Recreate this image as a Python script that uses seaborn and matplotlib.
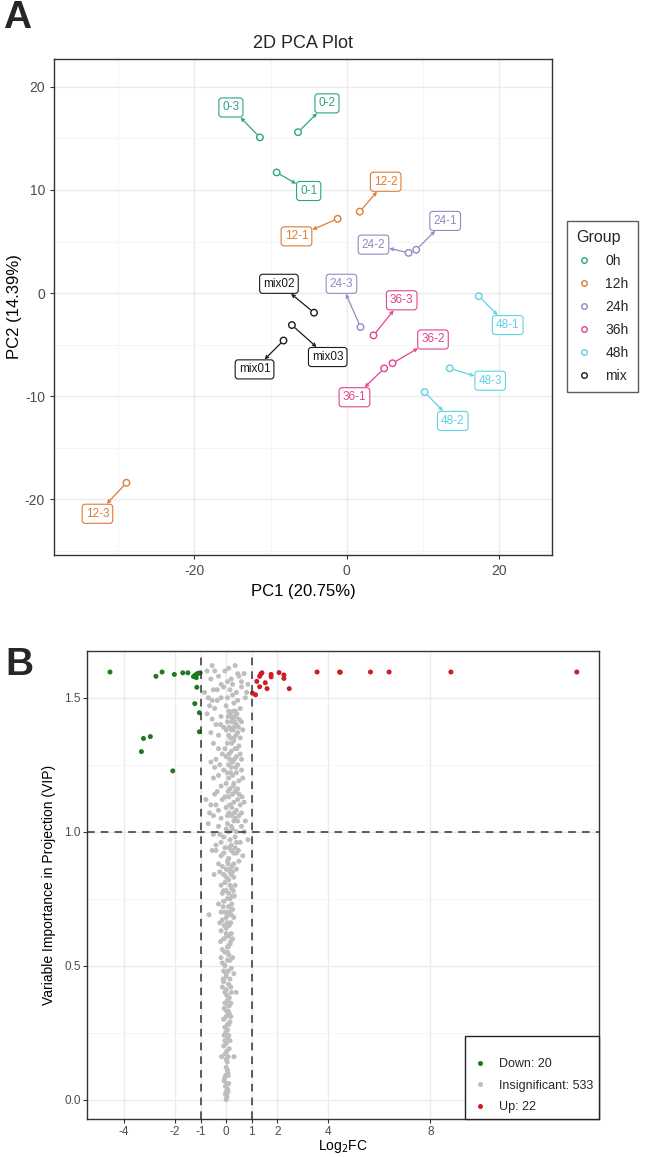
"""
Two-panel figure: PCA of samples (A) and VIP vs log2 fold change (B).
"""
import numpy as np
import pandas as pd
import matplotlib
matplotlib.use('Agg')
import matplotlib.pyplot as plt
from matplotlib.lines import Line2D
import seaborn as sns

# ---- panel A data: PCA scores ----
samples = ['0-1', '0-2', '0-3', '12-1', '12-2', '12-3', '24-1', '24-2', '24-3',
           '36-1', '36-2', '36-3', '48-1', '48-2', '48-3', 'mix01', 'mix02', 'mix03']
groups = ['0h'] * 3 + ['12h'] * 3 + ['24h'] * 3 + ['36h'] * 3 + ['48h'] * 3 + ['mix'] * 3
pc1 = [-9.2, -6.4, -11.4, -1.2, 1.7, -28.9, 9.1, 8.1, 1.8,
       4.9, 6.0, 3.5, 17.3, 10.2, 13.5, -8.3, -4.3, -7.2]
pc2 = [11.7, 15.6, 15.1, 7.2, 7.9, -18.4, 4.2, 3.9, -3.3,
       -7.3, -6.8, -4.1, -0.3, -9.6, -7.3, -4.6, -1.9, -3.1]
group_order = ['0h', '12h', '24h', '36h', '48h', 'mix']

# where the repelled labels sit (layout only)
label_pos = {
    '0-1': (-5.0, 9.9), '0-2': (-2.6, 18.4), '0-3': (-15.2, 18.0),
    '12-1': (-6.6, 5.5), '12-2': (5.1, 10.8), '12-3': (-32.7, -21.4),
    '24-1': (12.9, 7.0), '24-2': (3.5, 4.7), '24-3': (-0.7, 0.9),
    '36-1': (1.0, -10.1), '36-2': (11.3, -4.5), '36-3': (7.2, -0.7),
    '48-1': (21.1, -3.1), '48-2': (13.9, -12.4), '48-3': (18.8, -8.5),
    'mix01': (-12.1, -7.4), 'mix02': (-8.9, 0.9), 'mix03': (-2.5, -6.2),
}

# ---- panel B data: log2FC and VIP ----
down_fc = [-4.55, -2.75, -2.51, -2.03, -1.70, -1.50, -1.28, -1.22, -1.15, -1.09,
           -1.02, -1.17, -1.15, -1.23, -1.05, -1.05, -3.24, -2.97, -3.32, -2.09]
down_vip = [1.596, 1.580, 1.596, 1.587, 1.593, 1.593, 1.579, 1.584, 1.589, 1.591,
            1.593, 1.575, 1.539, 1.478, 1.444, 1.373, 1.348, 1.355, 1.299, 1.227]
up_fc = [1.03, 1.15, 1.20, 1.31, 1.31, 1.36, 1.40, 1.53, 1.60, 1.76, 1.76,
         2.07, 2.26, 2.26, 2.47, 3.56, 4.44, 4.47, 5.65, 6.38, 8.80, 13.73]
up_vip = [1.517, 1.511, 1.561, 1.541, 1.580, 1.589, 1.593, 1.556, 1.534, 1.587, 1.578,
          1.594, 1.585, 1.572, 1.534, 1.596, 1.596, 1.595, 1.596, 1.596, 1.596, 1.596]
insig_fc = [
    -0.75, -0.55, -0.30, 0.10, 0.35, 0.60, 0.85, -0.60, -0.20, 0.20, 0.45, -0.45, 0.05, 0.70,
    -0.85, -0.50, -0.20, 0.15, 0.40, 0.75, -0.65, -0.35, 0.00, 0.30, 0.55, -0.10, 0.25, -0.70,
    0.60, 0.10, -0.45,
    -0.75, -0.55, -0.40, -0.20, 0.05, 0.15, 0.25, 0.30, 0.35, 0.40, 0.45, 0.20, 0.10, 0.30,
    0.50, 0.65, -0.60, -0.30, 0.00, 0.38, 0.22, 0.28, 0.42, 0.12, 0.55, -0.10,
    -0.50, -0.30, -0.15, 0.05, 0.20, 0.30, 0.40, 0.50, 0.15, -0.40, 0.25, 0.35, 0.10, -0.60,
    0.60, 0.00, 0.45,
    -0.45, -0.30, -0.10, 0.10, 0.20, 0.30, 0.40, 0.50, 0.15, -0.20, 0.35, 0.00, 0.25, 0.60,
    -0.35, 0.45,
    -0.80, -0.60, -0.45, -0.30, -0.15, 0.00, 0.10, 0.20, 0.30, 0.40, 0.50, 0.60, 0.70, -0.50,
    0.25, 0.15, -0.20, 0.35, 0.05, 0.55,
    -0.70, -0.50, -0.30, -0.10, 0.05, 0.15, 0.25, 0.35, 0.45, 0.55, 0.70, -0.20, 0.10, 0.30,
    -0.40, 0.20, 0.40, 0.85, -0.55,
    -0.40, -0.20, -0.05, 0.10, 0.20, 0.30, 0.40, 0.15, -0.15, 0.05, 0.25, 0.35, 0.50, 0.65,
    -0.30, 0.00,
    -0.47, -0.20, -0.10, 0.00, 0.10, 0.20, 0.30, 0.25, 0.05, -0.15, 0.15, 0.35, 0.28, -0.05,
    0.20, 0.10,
    -0.67, -0.30, -0.20, -0.10, 0.00, 0.10, 0.20, 0.05, -0.15, 0.15, 0.25, -0.05, 0.08, 0.18,
    -0.25,
    -0.20, -0.10, 0.00, 0.10, 0.15, -0.15, 0.05, 0.20, -0.05, 0.12, 0.25, -0.22, 0.02,
    -0.20, -0.05, 0.10, 0.20, 0.30, 0.00, -0.10, 0.15, 0.05, -0.15, 0.25, 0.08,
    -0.10, 0.00, 0.10, 0.20, 0.39, 0.05, -0.05, 0.15, -0.15, 0.12, 0.02, 0.18,
    -0.08, 0.00, 0.08, 0.15, -0.05, 0.05, 0.12, -0.10, 0.10, 0.02, 0.18,
    -0.08, 0.00, 0.06, 0.12, -0.04, 0.08, -0.10, 0.15, 0.02, -0.02,
    -0.18, 0.00, 0.06, -0.06, 0.10, 0.04, -0.03, 0.31, -0.08, 0.08,
    0.00, 0.03, -0.03, 0.05, 0.00, 0.02,
    # second pass over the denser parts of the strip
    0.50, -0.05, 0.25, -0.35, 0.80, 0.05, 0.45, -0.55,
    0.18, 0.33, 0.27, 0.48, 0.08, -0.22, 0.60, 0.36, 0.16,
    0.22, 0.42, -0.05, 0.12, 0.32, 0.55, -0.25, 0.18, 0.38, 0.05, -0.50, 0.65,
    0.28, 0.08, 0.45, -0.05, 0.22, 0.38, -0.40, 0.12, 0.62, -0.65, 0.32, 0.50,
    0.20, 0.40, 0.00, -0.25, 0.60, 0.12, 0.30, -0.10, 0.48, 0.75,
    0.08, 0.22, -0.25, 0.40, 0.15, 0.32, -0.10, 0.00,
    0.12, 0.22, -0.12, 0.00, 0.18, -0.08, 0.30, 0.08,
    0.05, -0.12, 0.18, 0.08, 0.00, 0.12, -0.05,
    0.05, -0.05, 0.10, 0.00, 0.05, -0.02, 0.02, 0.07,
]
insig_vip = [
    1.60, 1.62, 1.58, 1.61, 1.62, 1.56, 1.55, 1.57, 1.55, 1.57, 1.59, 1.60, 1.56, 1.59,
    1.52, 1.53, 1.50, 1.53, 1.52, 1.50, 1.47, 1.49, 1.47, 1.48, 1.46, 1.54, 1.51, 1.50,
    1.54, 1.45, 1.46,
    1.44, 1.42, 1.40, 1.43, 1.41, 1.44, 1.42, 1.39, 1.43, 1.40, 1.37, 1.38, 1.36, 1.35,
    1.42, 1.38, 1.37, 1.36, 1.38, 1.36, 1.41, 1.45, 1.44, 1.39, 1.35, 1.39,
    1.33, 1.31, 1.29, 1.33, 1.30, 1.34, 1.28, 1.32, 1.27, 1.27, 1.26, 1.31, 1.25, 1.26,
    1.27, 1.28, 1.25,
    1.24, 1.21, 1.23, 1.20, 1.24, 1.18, 1.22, 1.19, 1.16, 1.17, 1.15, 1.18, 1.21, 1.23,
    1.15, 1.16,
    1.12, 1.10, 1.14, 1.08, 1.12, 1.09, 1.13, 1.06, 1.11, 1.08, 1.14, 1.07, 1.11, 1.06,
    1.14, 1.10, 1.05, 1.05, 1.06, 1.10,
    1.03, 0.99, 1.02, 0.98, 1.03, 0.97, 1.01, 0.98, 1.04, 0.96, 1.00, 0.96, 1.00, 1.04,
    0.95, 0.95, 1.00, 0.97, 0.93,
    0.93, 0.91, 0.94, 0.90, 0.93, 0.88, 0.92, 0.86, 0.87, 0.89, 0.85, 0.94, 0.89, 0.91,
    0.88, 0.86,
    0.84, 0.80, 0.84, 0.78, 0.82, 0.79, 0.83, 0.76, 0.75, 0.77, 0.85, 0.80, 0.78, 0.81,
    0.84, 0.77,
    0.69, 0.73, 0.70, 0.74, 0.68, 0.72, 0.69, 0.66, 0.67, 0.75, 0.71, 0.70, 0.69, 0.66,
    0.66,
    0.63, 0.60, 0.64, 0.61, 0.58, 0.56, 0.57, 0.62, 0.55, 0.65, 0.60, 0.59, 0.61,
    0.53, 0.50, 0.54, 0.49, 0.47, 0.46, 0.48, 0.52, 0.55, 0.51, 0.53, 0.48,
    0.44, 0.41, 0.43, 0.40, 0.40, 0.37, 0.36, 0.45, 0.42, 0.38, 0.39, 0.36,
    0.34, 0.31, 0.33, 0.29, 0.27, 0.26, 0.35, 0.30, 0.28, 0.33, 0.31,
    0.24, 0.21, 0.23, 0.19, 0.17, 0.16, 0.20, 0.22, 0.18, 0.25,
    0.16, 0.12, 0.10, 0.08, 0.06, 0.14, 0.05, 0.16, 0.07, 0.09,
    0.03, 0.01, 0.02, 0.04, 0.00, 0.02,
    # second pass
    1.58, 1.60, 1.55, 1.53, 1.52, 1.50, 1.49, 1.49,
    1.43, 1.41, 1.38, 1.39, 1.43, 1.40, 1.41, 1.45, 1.35,
    1.33, 1.31, 1.31, 1.29, 1.27, 1.29, 1.25, 1.22, 1.24, 1.22, 1.20, 1.20,
    1.17, 1.15, 1.12, 1.13, 1.09, 1.15, 1.10, 1.07, 1.13, 1.07, 1.07, 1.06,
    1.02, 0.96, 1.01, 0.99, 1.02, 0.94, 0.92, 0.92, 0.93, 1.04,
    0.88, 0.87, 0.85, 0.86, 0.80, 0.76, 0.78, 0.83,
    0.70, 0.73, 0.72, 0.62, 0.59, 0.65, 0.68, 0.57,
    0.52, 0.45, 0.42, 0.35, 0.47, 0.32, 0.40,
    0.28, 0.22, 0.24, 0.15, 0.11, 0.09, 0.06, 0.03,
]
status_labels = ['Down: 20', 'Insignificant: 533', 'Up: 22']
fc_breaks = [-4, -2, -1, 0, 1, 2, 4, 8]

# ---- styling ----
sns.set_style('ticks')
plt.rcParams['font.family'] = ['Liberation Sans', 'DejaVu Sans']
plt.rcParams['axes.unicode_minus'] = False
group_colors = ['#2aa586', '#de7b31', '#8f8bc3', '#e2438f', '#5fd2e6', '#1a1a1a']
pal = dict(zip(group_order, group_colors))
status_pal = dict(zip(status_labels, ['#1f7a1f', '#bebebe', '#cc1f25']))
GRID = '#ebebeb'
TICKC = '#4d4d4d'


def style_axes(ax):
    for sp in ax.spines.values():
        sp.set_color('#333333')
        sp.set_linewidth(1.0)
    ax.tick_params(colors='#333333', labelcolor=TICKC, labelsize=10, length=3, width=0.8)
    ax.grid(True, which='major', color=GRID, lw=1.0, zorder=0)
    ax.grid(True, which='minor', color='#f4f4f4', lw=0.6, zorder=0)
    ax.tick_params(which='minor', length=0)
    ax.set_axisbelow(True)


fig = plt.figure(figsize=(6.45, 11.57), dpi=100)

# ================= Panel A =================
ax1 = fig.add_axes([0.0837, 0.5203, 0.772, 0.4287])
pca = pd.DataFrame({'Sample': samples, 'Group': groups, 'PC1': pc1, 'PC2': pc2})
sns.scatterplot(data=pca, x='PC1', y='PC2', hue='Group', hue_order=group_order,
                palette=pal, s=22, linewidth=1.0, legend=False, ax=ax1, zorder=3)
coll = ax1.collections[0]
coll.set_edgecolors(coll.get_facecolors())
coll.set_facecolors('none')

for _, r in pca.iterrows():
    c = pal[r['Group']]
    lx, ly = label_pos[r['Sample']]
    ax1.annotate(r['Sample'], xy=(r['PC1'], r['PC2']), xytext=(lx, ly),
                 ha='center', va='center', fontsize=8.5, color=c, zorder=4,
                 bbox=dict(boxstyle='round,pad=0.3,rounding_size=0.25', fc='white', ec=c, lw=0.8),
                 arrowprops=dict(arrowstyle='<-,head_length=0.25,head_width=0.12', color=c,
                                 lw=0.9, shrinkA=0, shrinkB=3))

ax1.set_xlim(-38.4, 26.9)
ax1.set_ylim(-25.4, 22.7)
ax1.set_xticks([-20, 0, 20])
ax1.set_yticks([-20, -10, 0, 10, 20])
ax1.set_xticks([-30, -10, 10], minor=True)
ax1.set_yticks([-25, -15, -5, 5, 15], minor=True)
style_axes(ax1)
ax1.set_xlabel('PC1 (20.75%)', fontsize=12, color='black', labelpad=4)
ax1.set_ylabel('PC2 (14.39%)', fontsize=12, color='black', labelpad=2)
ax1.set_title('2D PCA Plot', fontsize=13, pad=8)

handles = [Line2D([], [], ls='none', marker='o', ms=4, mfc='none', mec=pal[g], mew=1.0)
           for g in group_order]
leg1 = fig.legend(handles, group_order, title='Group', loc='upper left',
                  bbox_to_anchor=(567 / 645, 1 - 221 / 1157), fontsize=10, title_fontsize=11.5,
                  frameon=True, fancybox=False, edgecolor='#333333', labelspacing=0.65,
                  handlelength=1.2, handletextpad=0.9, borderpad=0.65, borderaxespad=0,
                  alignment='left')
leg1.get_frame().set_linewidth(1.0)

# ================= Panel B =================
ax2 = fig.add_axes([0.1349, 0.0325, 0.7938, 0.4045])
vip = pd.DataFrame({
    'log2FC': down_fc + insig_fc + up_fc,
    'VIP': down_vip + insig_vip + up_vip,
    'Status': [status_labels[0]] * len(down_fc) + [status_labels[1]] * len(insig_fc)
              + [status_labels[2]] * len(up_fc),
})
sns.scatterplot(data=vip, x='log2FC', y='VIP', hue='Status', hue_order=status_labels,
                palette=status_pal, s=13, linewidth=0, ax=ax2, zorder=3)
ax2.axhline(1.0, color='#333333', ls=(0, (5, 4)), lw=1.1, zorder=4)
for v in (-1, 1):
    ax2.axvline(v, color='#333333', ls=(0, (5, 4)), lw=1.1, zorder=4)

ax2.set_xlim(-5.45, 14.6)
ax2.set_ylim(-0.074, 1.673)
ax2.set_xticks(fc_breaks)
ax2.set_xticklabels([str(b) for b in fc_breaks])
ax2.set_yticks([0, 0.5, 1.0, 1.5])
ax2.set_yticklabels(['0.0', '0.5', '1.0', '1.5'])
ax2.set_yticks([0.25, 0.75, 1.25], minor=True)
style_axes(ax2)
ax2.tick_params(labelsize=8.5, pad=1.5)
ax2.set_xlabel('Log$_2$FC', fontsize=10, color='black', labelpad=0)
ax2.set_ylabel('Variable Importance in Projection (VIP)', fontsize=10, color='black', labelpad=6)

leg2 = ax2.legend(title=' ', loc='lower right', fontsize=9, title_fontsize=6,
                  frameon=True, fancybox=False, edgecolor='#222222', markerscale=1.0,
                  borderaxespad=0, borderpad=0.5, labelspacing=0.75,
                  handlelength=1.4, handletextpad=0.8)
leg2.get_frame().set_linewidth(1.0)
leg2.get_frame().set_alpha(1)

# panel letters
fig.text(0.005, 1 - 18 / 1157, 'A', fontsize=28, fontweight='bold', va='center', ha='left')
fig.text(0.008, 1 - 665 / 1157, 'B', fontsize=28, fontweight='bold', va='center', ha='left')

fig.savefig('out.png', dpi=100)
plt.close(fig)
